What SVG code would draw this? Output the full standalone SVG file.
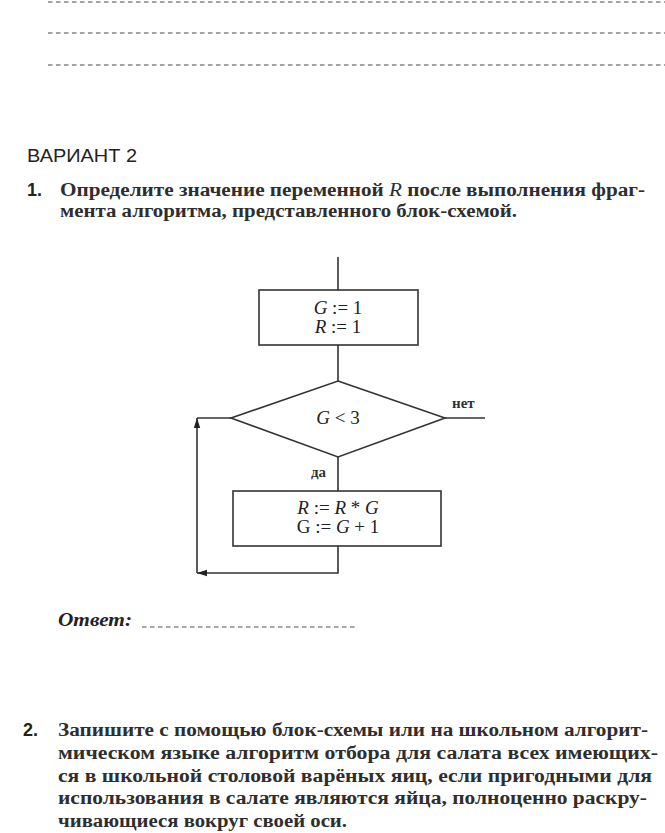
<svg xmlns="http://www.w3.org/2000/svg" width="665" height="833" viewBox="0 0 665 833">
<style>
.dash{stroke:#888;stroke-width:1.6;stroke-dasharray:4.5 3.5;fill:none}
.body{font-family:"Liberation Serif",serif;font-size:18px;font-weight:bold;fill:#2e2e2e}
.num{font-family:"Liberation Sans",sans-serif;font-size:18px;font-weight:bold;fill:#222}
.fc{font-family:"Liberation Serif",serif;font-size:19px;fill:#222}
.lbl{font-family:"Liberation Serif",serif;font-size:15px;font-weight:bold;fill:#333}
.shape{fill:#fff;stroke:#333;stroke-width:1.6}
.ln{stroke:#333;stroke-width:1.6;fill:none}
</style>
<defs>
<marker id="ah" viewBox="0 0 10 10" refX="10" refY="5" markerWidth="10" markerHeight="10" markerUnits="userSpaceOnUse" orient="auto">
<path d="M0,1.8 L10,5 L0,8.2 Z" fill="#222"/>
</marker>
</defs>
<rect width="665" height="833" fill="#fff"/>
<line class="dash" x1="48" y1="2" x2="665" y2="2"/>
<line class="dash" x1="48" y1="33" x2="665" y2="33"/>
<line class="dash" x1="48" y1="65" x2="665" y2="65"/>

<text x="27" y="162" font-family="Liberation Sans,sans-serif" font-size="18" fill="#222" textLength="110" lengthAdjust="spacingAndGlyphs">ВАРИАНТ  2</text>
<text class="num" x="27" y="196">1.</text>
<text class="body" x="60" y="196" textLength="585" lengthAdjust="spacingAndGlyphs">Определите значение переменной <tspan font-style="italic" font-weight="normal">R</tspan> после выполнения фраг-</text>
<text class="body" x="60" y="217" textLength="457" lengthAdjust="spacingAndGlyphs">мента алгоритма, представленного блок-схемой.</text>

<g id="connectors">
<line class="ln" x1="338" y1="257" x2="338" y2="290"/>
<line class="ln" x1="338" y1="345" x2="338" y2="381"/>
<line class="ln" x1="445" y1="418" x2="485" y2="418"/>
<line class="ln" x1="338" y1="457" x2="338" y2="491"/>
<polyline class="ln" points="338,546 338,573 197,573" marker-end="url(#ah)"/>
<polyline class="ln" points="197,573 197,418" marker-end="url(#ah)"/>
<line class="ln" x1="197" y1="418" x2="231" y2="418"/>
<text class="lbl" x="452" y="408">нет</text>
<text class="lbl" x="311" y="477">да</text>
</g>

<g id="init">
<rect class="shape" x="259" y="290" width="159" height="55"/>
<text class="fc" x="338" y="314" text-anchor="middle"><tspan font-style="italic">G</tspan> := 1</text>
<text class="fc" x="338" y="333" text-anchor="middle"><tspan font-style="italic">R</tspan> := 1</text>
</g>

<g id="cond">
<polygon class="shape" points="338,381 445,418 338,457 231,418"/>
<text class="fc" x="338" y="424" text-anchor="middle"><tspan font-style="italic">G</tspan> &lt; 3</text>
</g>

<g id="body">
<rect class="shape" x="233" y="491" width="208" height="55"/>
<text class="fc" x="338" y="514" text-anchor="middle"><tspan font-style="italic">R</tspan> := <tspan font-style="italic">R</tspan> * <tspan font-style="italic">G</tspan></text>
<text class="fc" x="338" y="533" text-anchor="middle">G := <tspan font-style="italic">G</tspan> + 1</text>
</g>

<text x="58" y="626" font-family="Liberation Serif,serif" font-size="19" font-style="italic" font-weight="bold" fill="#222" textLength="74" lengthAdjust="spacingAndGlyphs">Ответ:</text>
<line class="dash" x1="142" y1="627" x2="358" y2="627"/>

<text class="num" x="23" y="736">2.</text>
<text class="body" x="58" y="736" textLength="590" lengthAdjust="spacingAndGlyphs">Запишите с помощью блок-схемы или на школьном алгорит-</text>
<text class="body" x="58" y="759" textLength="600" lengthAdjust="spacingAndGlyphs">мическом языке алгоритм отбора для салата всех имеющих-</text>
<text class="body" x="58" y="782" textLength="594" lengthAdjust="spacingAndGlyphs">ся в школьной столовой варёных яиц, если пригодными для</text>
<text class="body" x="58" y="804" textLength="589" lengthAdjust="spacingAndGlyphs">использования в салате являются яйца, полноценно раскру-</text>
<text class="body" x="58" y="827" textLength="289" lengthAdjust="spacingAndGlyphs">чивающиеся вокруг своей оси.</text>
</svg>
